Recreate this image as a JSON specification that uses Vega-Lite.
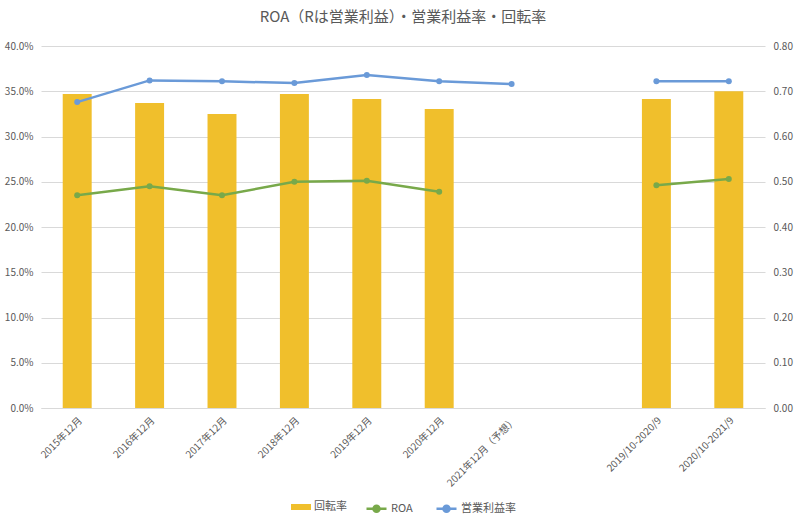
{
  "$schema": "https://vega.github.io/schema/vega-lite/v6.json",
  "width": 724,
  "height": 362,
  "autosize": "none",
  "padding": {"left": 41, "top": 46, "right": 35, "bottom": 114},
  "background": "white",
  "title": {
    "text": "ROA（Rは営業利益）・営業利益率・回転率",
    "fontSize": 15,
    "fontWeight": "normal",
    "color": "#595959",
    "font": "Noto Sans CJK JP",
    "offset": 16
  },
  "config": {
    "view": {"stroke": null},
    "font": "Noto Sans CJK JP",
    "axis": {"labelColor": "#595959", "labelFontSize": 10, "gridColor": "#d9d9d9", "domain": false, "ticks": false},
    "legend": {
      "orient": "bottom",
      "direction": "horizontal",
      "labelFontSize": 11,
      "labelColor": "#595959",
      "labelOffset": 3,
      "columnPadding": 18,
      "offset": 8,
      "layout": {"bottom": {"anchor": "middle", "direction": "horizontal", "margin": 18}}
    }
  },
  "data": {
    "values": [
      {"cat": "2015年12月", "series": "回転率", "seg": "a", "value": 0.694},
      {"cat": "2016年12月", "series": "回転率", "seg": "a", "value": 0.674},
      {"cat": "2017年12月", "series": "回転率", "seg": "a", "value": 0.650},
      {"cat": "2018年12月", "series": "回転率", "seg": "a", "value": 0.694},
      {"cat": "2019年12月", "series": "回転率", "seg": "a", "value": 0.683},
      {"cat": "2020年12月", "series": "回転率", "seg": "a", "value": 0.661},
      {"cat": "2019/10-2020/9", "series": "回転率", "seg": "b", "value": 0.683},
      {"cat": "2020/10-2021/9", "series": "回転率", "seg": "b", "value": 0.700},
      {"cat": "2015年12月", "series": "ROA", "seg": "a", "value": 0.235},
      {"cat": "2016年12月", "series": "ROA", "seg": "a", "value": 0.245},
      {"cat": "2017年12月", "series": "ROA", "seg": "a", "value": 0.235},
      {"cat": "2018年12月", "series": "ROA", "seg": "a", "value": 0.250},
      {"cat": "2019年12月", "series": "ROA", "seg": "a", "value": 0.251},
      {"cat": "2020年12月", "series": "ROA", "seg": "a", "value": 0.239},
      {"cat": "2019/10-2020/9", "series": "ROA", "seg": "b", "value": 0.246},
      {"cat": "2020/10-2021/9", "series": "ROA", "seg": "b", "value": 0.253},
      {"cat": "2015年12月", "series": "営業利益率", "seg": "a", "value": 0.338},
      {"cat": "2016年12月", "series": "営業利益率", "seg": "a", "value": 0.362},
      {"cat": "2017年12月", "series": "営業利益率", "seg": "a", "value": 0.361},
      {"cat": "2018年12月", "series": "営業利益率", "seg": "a", "value": 0.359},
      {"cat": "2019年12月", "series": "営業利益率", "seg": "a", "value": 0.368},
      {"cat": "2020年12月", "series": "営業利益率", "seg": "a", "value": 0.361},
      {"cat": "2021年12月（予想）", "series": "営業利益率", "seg": "a", "value": 0.358},
      {"cat": "2019/10-2020/9", "series": "営業利益率", "seg": "b", "value": 0.361},
      {"cat": "2020/10-2021/9", "series": "営業利益率", "seg": "b", "value": 0.361}
    ]
  },
  "encoding": {
    "x": {
      "field": "cat",
      "type": "nominal",
      "scale": {
        "domain": ["2015年12月", "2016年12月", "2017年12月", "2018年12月", "2019年12月", "2020年12月", "2021年12月（予想）", " ", "2019/10-2020/9", "2020/10-2021/9"],
        "paddingInner": 0.6,
        "paddingOuter": 0.3
      },
      "axis": {"title": null, "labelAngle": -45, "domain": true, "domainColor": "#d9d9d9", "labelPadding": 7}
    }
  },
  "layer": [
    {
      "transform": [{"filter": "datum.series === '回転率'"}],
      "mark": {"type": "bar"},
      "encoding": {
        "y": {
          "field": "value",
          "type": "quantitative",
          "scale": {"domain": [0, 0.8], "nice": false},
          "axis": {"orient": "right", "format": ".2f", "tickCount": 8, "grid": false, "title": null, "labelPadding": 8}
        },
        "fill": {
          "field": "series",
          "type": "nominal",
          "scale": {"domain": ["回転率"], "range": ["#F0BF2C"]},
          "legend": {"title": null, "symbolType": "M-1,-0.3H1V0.3H-1Z", "symbolSize": 400, "symbolStrokeWidth": 0, "symbolOpacity": 1}
        }
      }
    },
    {
      "transform": [{"filter": "datum.series !== '回転率'"}],
      "encoding": {
        "y": {
          "field": "value",
          "type": "quantitative",
          "scale": {"domain": [0, 0.4], "nice": false},
          "axis": {"orient": "left", "format": ".1%", "tickCount": 8, "grid": true, "title": null, "labelPadding": 8}
        },
        "color": {
          "field": "series",
          "type": "nominal",
          "scale": {"domain": ["ROA", "営業利益率"], "range": ["#78A94A", "#6A9AD8"]},
          "legend": {
            "title": null,
            "symbolType": "M-1,0H1M-0.3,0A0.3,0.3,0,1,1,0.3,0A0.3,0.3,0,1,1,-0.3,0Z",
            "symbolSize": 400,
            "symbolStrokeWidth": 2.5,
            "encode": {
              "symbols": {
                "update": {
                  "fill": {"scale": "color", "field": "value"},
                  "stroke": {"scale": "color", "field": "value"},
                  "opacity": {"value": 1}
                }
              }
            }
          }
        }
      },
      "layer": [
        {
          "mark": {"type": "line", "strokeWidth": 2.5},
          "encoding": {"detail": {"field": "seg", "type": "nominal"}}
        },
        {
          "mark": {"type": "point", "filled": true, "size": 36, "opacity": 1}
        }
      ]
    }
  ],
  "resolve": {"scale": {"y": "independent"}}
}
